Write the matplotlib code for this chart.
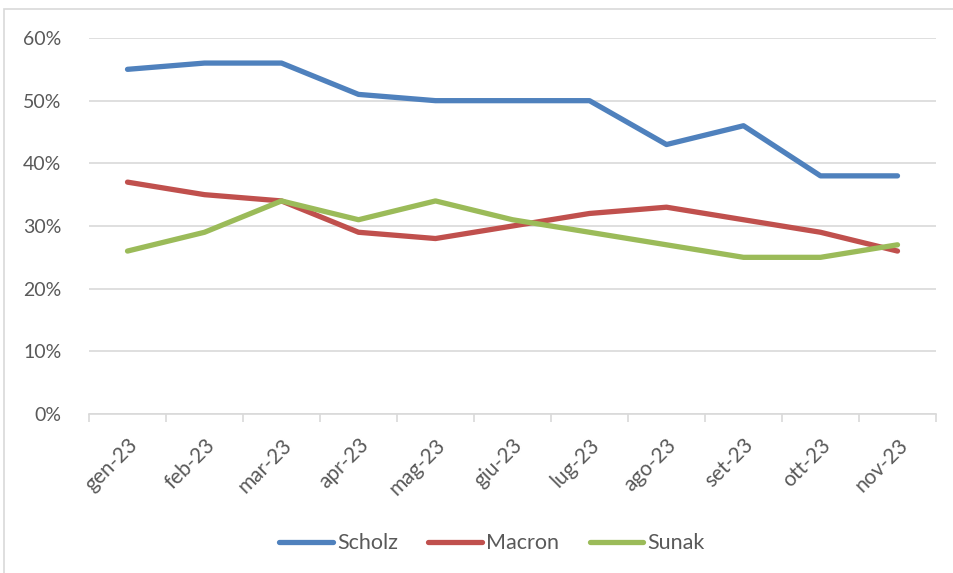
import numpy as np
import matplotlib
matplotlib.use('Agg')
from matplotlib import pyplot as plt
from matplotlib.patches import Rectangle
from matplotlib.ticker import FuncFormatter, FixedLocator

months = ['gen-23', 'feb-23', 'mar-23', 'apr-23', 'mag-23', 'giu-23',
          'lug-23', 'ago-23', 'set-23', 'ott-23', 'nov-23']
scholz = [55, 56, 56, 51, 50, 50, 50, 43, 46, 38, 38]
macron = [37, 35, 34, 29, 28, 30, 32, 33, 31, 29, 26]
sunak = [26, 29, 34, 31, 34, 31, 29, 27, 25, 25, 27]

txt = '#595959'
grid = '#D9D9D9'
plt.rcParams['font.family'] = ['Lato', 'DejaVu Sans']

fig = plt.figure(figsize=(9.54, 5.73), dpi=100)
ax = fig.add_axes([89/954, 1 - 414/573, (936 - 89)/954, (414 - 38)/573])

# light frame of the chart box (cropped at right/bottom)
fig.patches.append(Rectangle((4/954, -0.1), 2, 1 - 9/573 + 0.1, transform=fig.transFigure,
                             fill=False, edgecolor=grid, lw=1.2, zorder=0))

x = np.arange(len(months))
ax.plot(x, scholz, color='#4F81BD', lw=3.8, label='Scholz', solid_capstyle='round', solid_joinstyle='round')
ax.plot(x, macron, color='#C0504D', lw=3.8, label='Macron', solid_capstyle='round', solid_joinstyle='round')
ax.plot(x, sunak, color='#9BBB59', lw=3.8, label='Sunak', solid_capstyle='round', solid_joinstyle='round')

ax.set_xlim(-0.5, len(months) - 0.5)
ax.set_ylim(0, 60)
ax.set_yticks(range(0, 61, 10))
ax.yaxis.set_major_formatter(FuncFormatter(lambda v, p: '%d%%' % v))
ax.yaxis.grid(True, color=grid, lw=1.2)
ax.set_axisbelow(True)

ax.xaxis.set_major_locator(FixedLocator(np.arange(-0.5, len(months), 1.0)))
ax.xaxis.set_major_formatter(FuncFormatter(lambda v, p: ''))
ax.set_xticks(x, minor=True)
ax.set_xticklabels(months, minor=True, rotation=45, ha='right', va='top',
                   rotation_mode='anchor', color=txt, fontsize=15)
ax.tick_params(axis='x', which='major', length=6, color=grid, width=1.2)
ax.tick_params(axis='x', which='minor', length=0, pad=15)
ax.tick_params(axis='y', length=0, labelcolor=txt, labelsize=14, pad=20)

for s in ['top', 'right', 'left']:
    ax.spines[s].set_visible(False)
ax.spines['bottom'].set_color(grid)
ax.spines['bottom'].set_linewidth(1.2)

leg = fig.legend(loc='center', bbox_to_anchor=(492/954, 0.052), ncol=3, frameon=False,
                 fontsize=15.5, handlelength=2.5, columnspacing=1.4, handletextpad=0.2)
for t in leg.get_texts():
    t.set_color(txt)

fig.savefig('out.png', dpi=100)
